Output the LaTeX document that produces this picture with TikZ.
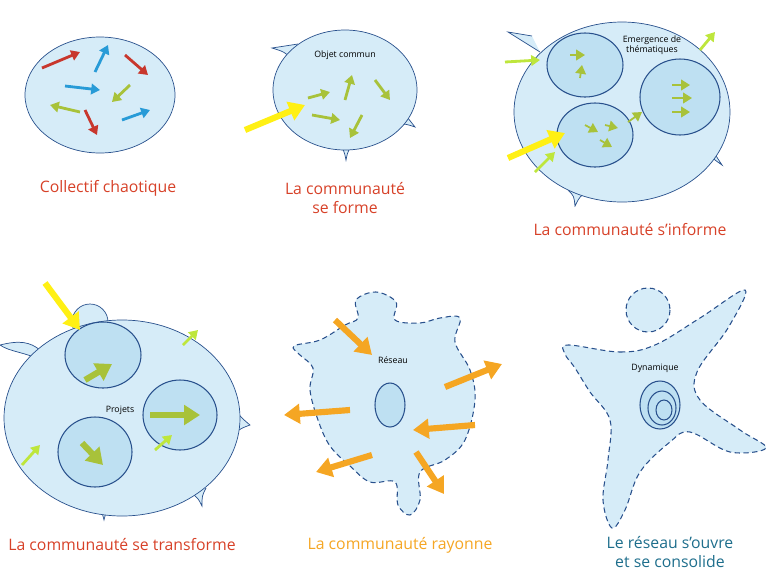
\documentclass[tikz,border=0pt]{standalone}
\usepackage{fontspec}
\setmainfont{Open Sans}
\usetikzlibrary{arrows.meta}
\definecolor{cellfill}{RGB}{214,236,248}
\definecolor{cellline}{RGB}{40,80,140}
\definecolor{corefill}{RGB}{190,224,242}
\definecolor{arred}{RGB}{200,55,45}
\definecolor{arblue}{RGB}{40,155,215}
\definecolor{argreen}{RGB}{168,194,58}
\definecolor{arlime}{RGB}{190,230,60}
\definecolor{aryellow}{RGB}{255,240,20}
\definecolor{arorange}{RGB}{245,166,35}
\definecolor{txtred}{RGB}{215,65,40}
\definecolor{txtteal}{RGB}{30,110,140}
\begin{document}
\begin{tikzpicture}
[x=0.02cm,y=-0.02cm,%
  cell/.style={fill=cellfill,draw=cellline,line width=0.4pt},%
  dcell/.style={fill=cellfill,draw=cellline,line width=0.6pt,dash pattern=on 3pt off 2pt},%
  core/.style={fill=corefill,draw=cellline,line width=0.6pt},%
  arr/.style={line width=1.6pt,-{Triangle[length=5pt,width=6pt]}},%
  fatarr/.style={line width=3.5pt,-{Triangle[length=9pt,width=11pt]}},%
  caption/.style={font=\small,align=center},%
  tag/.style={font=\tiny,align=center}]
\useasboundingbox (0,0) rectangle (769,569);
% collectif chaotique
\draw[cell] (100,95) ellipse (75 and 58);
\draw[arr,arred] (42,68) -- (80,52);
\draw[arr,arblue] (95,72) -- (108,45);
\draw[arr,arred] (125,55) -- (148,75);
\draw[arr,arblue] (65,86) -- (100,90);
\draw[arr,argreen] (130,85) -- (112,102);
\draw[arr,argreen] (80,112) -- (50,105);
\draw[arr,arred] (85,110) -- (97,135);
\draw[arr,arblue] (122,120) -- (150,110);
\node[caption,text=txtred] (c1) at (108,188) {Collectif chaotique};
% la communaute se forme
\draw[cell] (298,44) .. controls (285,45) .. (272,48) .. controls (285,52) .. (294,62);
\draw[cell] (338,145) .. controls (344,150) .. (346,160) .. controls (348,150) .. (355,145);
\draw[cell] (400,108) .. controls (408,118) .. (415,127) .. controls (406,124) .. (398,124);
\draw[cell] (345,90) ellipse (72 and 60);
\node[tag] (t2) at (345,55) {Objet commun};
\draw[fatarr,aryellow] (245,130) -- (305,105);
\draw[arr,argreen] (308,98) -- (330,92);
\draw[arr,argreen] (345,100) -- (352,75);
\draw[arr,argreen] (375,80) -- (390,100);
\draw[arr,argreen] (312,115) -- (340,120);
\draw[arr,argreen] (362,115) -- (350,138);
\node[caption,text=txtred] (c2) at (345,198) {La communauté\\se forme};
% la communaute s'informe
\draw[cell] (532,36) .. controls (520,33) .. (508,32) .. controls (525,42) .. (540,52);
\draw[cell] (705,150) .. controls (712,158) .. (722,165) .. controls (712,150) .. (715,140);
\draw[cell] (568,190) .. controls (574,196) .. (575,206) .. controls (580,196) .. (588,192);
\draw[cell] (622,112) ellipse (108 and 90);
\node[tag] (t3) at (652,45) {Emergence de\\thématiques};
\draw[core] (585,65) ellipse (38 and 32);
\draw[core] (680,97) ellipse (40 and 38);
\draw[core] (595,135) ellipse (38 and 32);
\draw[arr,argreen,line width=1pt] (580,78) -- (582,65);
\draw[arr,argreen,line width=1pt] (570,55) -- (585,55);
\draw[arr,argreen,line width=1pt] (672,85) -- (690,85);
\draw[arr,argreen,line width=1pt] (672,98) -- (692,98);
\draw[arr,argreen,line width=1pt] (672,112) -- (690,112);
\draw[arr,argreen,line width=1pt] (585,125) -- (598,132);
\draw[arr,argreen,line width=1pt] (605,125) -- (618,128);
\draw[arr,argreen,line width=1pt] (600,140) -- (612,147);
\draw[arr,argreen,line width=1pt] (628,122) -- (642,112);
\draw[arr,arlime] (505,62) -- (540,60);
\draw[arr,arlime] (700,50) -- (715,32);
\draw[arr,arlime] (535,172) -- (555,152);
\draw[fatarr,aryellow] (508,158) -- (565,133);
\node[caption,text=txtred] (c3) at (630,230) {La communauté s'informe};
% la communaute se transforme
\draw[cell] (0,345) .. controls (20,340) and (30,342) .. (40,350) -- (40,360) .. controls (25,352) and (10,352) .. cycle;
\draw[cell] (90,322) circle (18);
\draw[cell] (96,505) .. controls (102,512) .. (104,520) .. controls (106,512) .. (112,505);
\draw[cell] (190,492) .. controls (198,498) .. (202,506) .. controls (202,496) .. (206,488);
\draw[cell] (236,412) .. controls (244,420) .. (250,425) .. controls (242,428) .. (236,432);
\draw[cell] (122,418) ellipse (118 and 98);
\node[tag] (t4) at (120,410) {Projets};
\draw[core] (103,355) ellipse (38 and 33);
\draw[core] (180,415) ellipse (37 and 35);
\draw[core] (95,452) ellipse (37 and 35);
\draw[fatarr,argreen] (85,380) -- (112,364);
\draw[fatarr,argreen] (150,415) -- (200,415);
\draw[fatarr,argreen] (82,443) -- (103,465);
\draw[arr,arlime] (183,345) -- (198,330);
\draw[arr,arlime] (22,465) -- (40,445);
\draw[arr,arlime] (155,450) -- (172,435);
\draw[fatarr,aryellow] (45,283) -- (80,330);
\node[caption,text=txtred] (c4) at (122,545) {La communauté se transforme};
% la communaute rayonne
\draw[dcell] plot[smooth cycle,tension=0.6] coordinates {(320,340) (345,325) (358,318) (356,300) (376,292) (396,302) (395,320) (420,323) (440,318) (460,318) (455,342) (470,370) (475,400) (465,440) (445,460) (420,472) (420,500) (410,515) (398,505) (395,482) (370,482) (350,466) (330,446) (318,420) (310,390) (313,368) (300,355) (294,346)};
\draw[core] (390,405) ellipse (15 and 22);
\node[tag] (t5) at (393,360) {Réseau};
\draw[fatarr,arorange] (335,320) -- (372,355);
\draw[fatarr,arorange] (445,387) -- (502,364);
\draw[fatarr,arorange] (350,410) -- (284,415);
\draw[fatarr,arorange] (475,425) -- (413,430);
\draw[fatarr,arorange] (372,455) -- (316,472);
\draw[fatarr,arorange] (416,452) -- (444,494);
\node[caption,text=arorange] (c5) at (400,545) {La communauté rayonne};
% le reseau s'ouvre
\draw[dcell] (648,310) circle (22);
\draw[dcell] plot[smooth cycle,tension=0.6] coordinates {(568,345) (620,352) (655,345) (700,318) (745,290) (728,328) (697,372) (700,400) (740,430) (766,448) (730,452) (690,432) (670,442) (640,472) (625,510) (612,528) (603,500) (608,460) (610,420) (590,392) (575,368) (565,354)};
\node[tag] (t6) at (655,368) {Dynamique};
\draw[cellline,fill=corefill,line width=0.6pt] (660,405) ellipse (20 and 24);
\draw[cellline,line width=0.6pt] (662,408) ellipse (14 and 17);
\draw[cellline,line width=0.6pt] (664,410) ellipse (8 and 10);
\node[caption,text=txtteal] (c6) at (670,552) {Le réseau s'ouvre\\et se consolide};
\end{tikzpicture}
\end{document}
